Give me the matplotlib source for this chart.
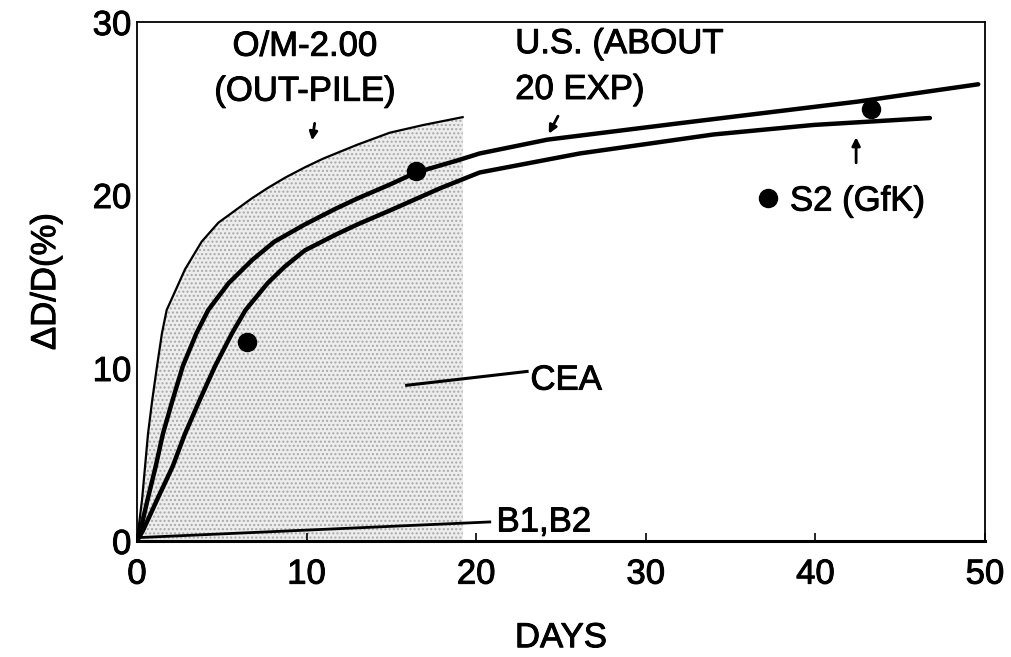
import numpy as np
import matplotlib.pyplot as plt
import matplotlib.patheffects as pe

plt.rcParams['font.family'] = ['Liberation Sans', 'DejaVu Sans']

# ── Données ──────────────────────────────────────────────────
# O/M-2.00 (out-pile), courbe fine
om_days = [0, 0.3, 0.65, 0.9, 1.18, 1.47, 1.75, 2.83, 3.81, 4.8, 5.78, 6.76, 7.7,
           8.73, 9.9, 10.97, 12.97, 14.9, 16.9, 19.2]
om_swell = [0, 2.4, 6.2, 8.15, 10.1, 12.0, 13.35, 15.7, 17.3, 18.4, 19.1, 19.8, 20.4,
            21.0, 21.6, 22.1, 22.9, 23.6, 24.05, 24.5]

# U.S. (about 20 exp), courbe épaisse haute
us_days = [0, 0.2, 0.65, 1.1, 1.53, 2.1, 2.7, 3.5, 4.2, 5.4, 6.8, 8.1, 9.9, 11.7,
           13.0, 14.9, 16.45, 18.9, 20.2, 24.2, 32.0, 42.5, 49.6]
us_swell = [0, 0.6, 2.5, 4.3, 6.2, 8.15, 10.1, 12.0, 13.35, 14.9, 16.25, 17.3, 18.3,
            19.2, 19.8, 20.6, 21.3, 22.0, 22.4, 23.2, 24.15, 25.4, 26.4]

# courbe épaisse basse
low_days = [0, 0.35, 1.24, 2.1, 2.83, 3.7, 4.6, 5.6, 6.4, 7.7, 8.7, 9.9, 11.7, 13.0,
            14.9, 17.9, 20.2, 26.1, 34.0, 39.9, 46.75]
low_swell = [0, 0.6, 2.5, 4.3, 6.2, 8.15, 10.1, 12.0, 13.35, 14.9, 15.85, 16.8, 17.7,
             18.3, 19.1, 20.4, 21.3, 22.4, 23.5, 24.05, 24.45]

# B1,B2
b_days = [0.2, 20.8]
b_swell = [0.2, 1.1]

# points isolés
dot_days = [6.5, 16.45, 37.2, 43.3]
dot_swell = [11.5, 21.4, 19.8, 25.0]

# ── Figure ───────────────────────────────────────────────────
fig = plt.figure(figsize=(10.11, 6.57), dpi=100)
ax = fig.add_axes([0.1355, 0.1766, 0.8388, 0.7899])

# zone CEA (grisée, pointillée)
ax.fill_between(om_days, 0, om_swell, color='#ededed', lw=0, zorder=1)
ax.fill_between(om_days, 0, om_swell, facecolor='none', edgecolor='#a8a8a8',
                hatch='....', lw=0, zorder=1)

ax.plot(om_days, om_swell, color='black', lw=1.6, zorder=3)
ax.plot(us_days, us_swell, color='black', lw=3.2, zorder=3,
        solid_capstyle='round', solid_joinstyle='round')
ax.plot(low_days, low_swell, color='black', lw=3.2, zorder=3,
        solid_capstyle='round', solid_joinstyle='round')
ax.plot(b_days, b_swell, color='black', lw=2.0, zorder=3)
ax.plot(dot_days, dot_swell, 'o', color='black', ms=13, zorder=4)

fs = 25
bold = [pe.withStroke(linewidth=0.7, foreground='black')]
txt = dict(fontsize=fs, path_effects=bold)
arrow = dict(arrowstyle='-|>', color='black', lw=2.0, mutation_scale=12)

ax.text(9.9, 28.6, 'O/M-2.00', ha='center', va='center', **txt)
ax.text(9.9, 26.0, '(OUT-PILE)', ha='center', va='center', **txt)
ax.annotate('', xy=(10.3, 23.0), xytext=(10.5, 24.3), arrowprops=arrow)

ax.text(22.3, 28.75, 'U.S. (ABOUT', ha='left', va='center', **txt)
ax.text(22.3, 26.1, '20 EXP)', ha='left', va='center', **txt)
ax.annotate('', xy=(24.2, 23.4), xytext=(24.9, 24.7), arrowprops=arrow)

ax.text(38.5, 19.65, 'S2 (GfK)', ha='left', va='center', **txt)
ax.annotate('', xy=(42.4, 23.5), xytext=(42.4, 21.7), arrowprops=arrow)

ax.plot([15.9, 23.0], [9.0, 9.8], color='black', lw=2.2, zorder=3)
ax.text(23.2, 9.3, 'CEA', ha='left', va='center', **txt)

ax.text(21.2, 1.1, 'B1,B2', ha='left', va='center', **txt)

ax.set_xlim(0, 50)
ax.set_ylim(0, 30)
ax.set_xticks([0, 10, 20, 30, 40, 50])
ax.set_yticks([0, 10, 20, 30])
ax.tick_params(axis='x', direction='in', length=6, width=1.2, labelsize=fs, pad=12)
ax.tick_params(axis='y', length=0, labelsize=fs, pad=4)
for lab in ax.get_xticklabels() + ax.get_yticklabels():
    lab.set_path_effects(bold)
for side in ['left', 'right', 'top']:
    ax.spines[side].set_linewidth(1.3)
ax.spines['bottom'].set_linewidth(2.2)

ax.set_xlabel('DAYS', fontsize=fs, labelpad=22, path_effects=bold)
ax.set_ylabel('ΔD/D(%)', fontsize=fs, labelpad=22, path_effects=bold)

plt.savefig('out.png', dpi=100)
